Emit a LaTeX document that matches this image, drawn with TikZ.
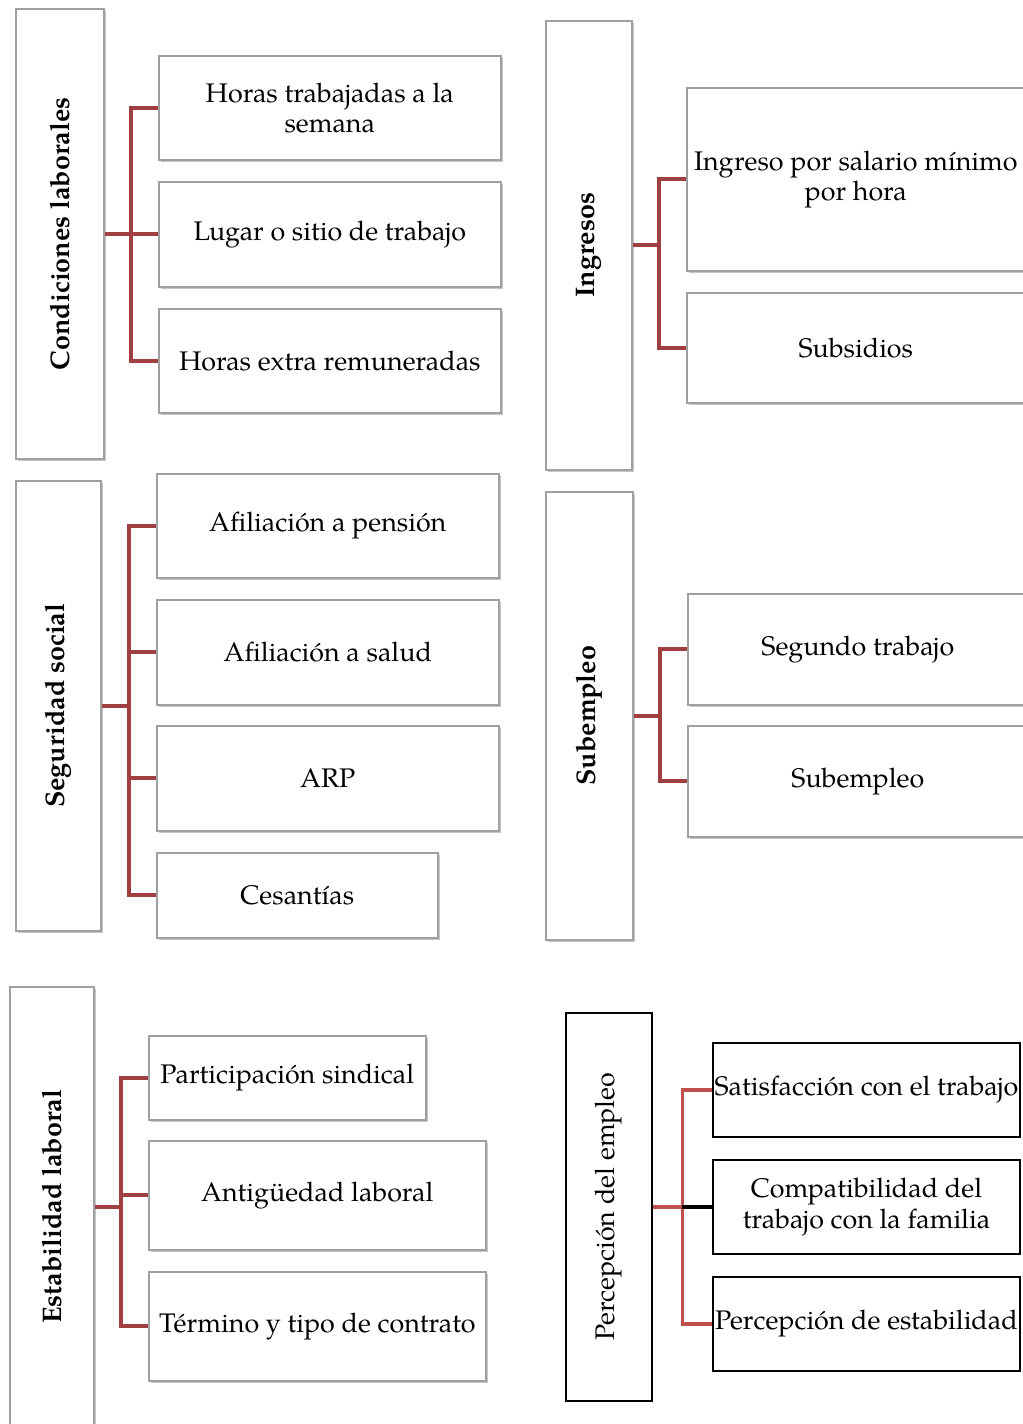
\documentclass[tikz,border=0pt]{standalone}
\usepackage{fontspec}
\setmainfont{texgyrepagella}[Extension=.otf,UprightFont=*-regular,BoldFont=*-bold,ItalicFont=*-italic,BoldItalicFont=*-bolditalic]
\usepackage{xcolor}
\definecolor{LinkRed}{HTML}{A03F3F}
\definecolor{LinkLight}{HTML}{C0504D}
\definecolor{BoxGray}{HTML}{A0A0A0}
\usepackage{tikz}
\usetikzlibrary{calc}
\usetikzlibrary{shadows}
\newcommand{\unitpx}{0.02cm}
\tikzset{
	every node/.style={font=\fontsize{15.3}{17.2}\selectfont},
	wh/.style 2 args={minimum width=#1*\unitpx, minimum height=#2*\unitpx},
	item/.style={draw=BoxGray, line width=0.9pt, fill=white, anchor=north west, align=center, inner sep=0pt,
		drop shadow={shadow xshift=1.4pt, shadow yshift=-1.4pt, opacity=0.45}},
	plainitem/.style={draw=black, line width=1.1pt, fill=white, anchor=north west, align=center, inner sep=0pt},
	link/.style={draw=LinkRed, line width=2.2pt, line join=miter},
	lightlink/.style={draw=LinkLight, line width=2.2pt, line join=miter}
}

\begin{document}
\begin{tikzpicture}[x=\unitpx,y=-\unitpx]
	\useasboundingbox (0,0) rectangle (1023,1424);
	\clip (0,0) rectangle (1023,1424);
	
	% Condiciones laborales
	\node[item,wh={88}{450}] (cond) at (15,8) {\rotatebox{90}{\bfseries Condiciones laborales}};
	\node[item,wh={342}{104}] (hrs) at (158,55) {Horas trabajadas a la\\semana};
	\node[item,wh={342}{105}] (lug) at (158,181) {Lugar o sitio de trabajo};
	\node[item,wh={342}{104}] (ext) at (158,308) {Horas extra remuneradas};
	\coordinate (t1) at ($(cond.east)!.5!(hrs.west)$);
	\draw[link] (cond.east) -- (cond.east -| t1);
	\draw[link] (hrs.west) -- (hrs.west -| t1) -- (ext.west -| t1) -- (ext.west);
	\draw[link] (lug.west) -- (lug.west -| t1);
	
	% Ingresos
	\node[item,wh={86}{449}] (ingr) at (545,20) {\rotatebox{90}{\bfseries Ingresos}};
	\node[item,wh={338}{183}] (sal) at (686,87) {Ingreso por salario mínimo\\por hora};
	\node[item,wh={338}{110}] (subs) at (686,292) {Subsidios};
	\coordinate (t2) at ($(ingr.east)!.5!(sal.west)$);
	\draw[link] (ingr.east) -- (ingr.east -| t2);
	\draw[link] (sal.west) -- (sal.west -| t2) -- (subs.west -| t2) -- (subs.west);
	
	% Seguridad social
	\node[item,wh={85}{450}] (segs) at (15,480) {\rotatebox{90}{\bfseries Seguridad social}};
	\node[item,wh={342}{104}] (pen) at (156,473) {Afiliación a pensión};
	\node[item,wh={342}{105}] (salud) at (156,599) {Afiliación a salud};
	\node[item,wh={342}{105}] (arp) at (156,725) {ARP};
	\node[item,wh={281}{85}] (ces) at (156,852) {Cesantías};
	\coordinate (t3) at ($(segs.east)!.5!(pen.west)$);
	\draw[link] (segs.east) -- (segs.east -| t3);
	\draw[link] (pen.west) -- (pen.west -| t3) -- (ces.west -| t3) -- (ces.west);
	\foreach \c in {salud,arp}
		\draw[link] (\c.west) -- (\c.west -| t3);
	
	% Subempleo
	\node[item,wh={87}{448}] (subm) at (545,491) {\rotatebox{90}{\bfseries Subempleo}};
	\node[item,wh={340}{111}] (segt) at (687,593) {Segundo trabajo};
	\node[item,wh={340}{111}] (sube) at (687,725) {Subempleo};
	\coordinate (t4) at ($(subm.east)!.5!(segt.west)$);
	\draw[link] (subm.east) -- (subm.east -| t4);
	\draw[link] (segt.west) -- (segt.west -| t4) -- (sube.west -| t4) -- (sube.west);
	
	% Estabilidad laboral
	\node[item,wh={84}{440}] (estab) at (9,986) {\rotatebox{90}{\bfseries Estabilidad laboral}};
	\node[item,wh={277}{84}] (sind) at (148,1035) {Participación sindical};
	\node[item,wh={337}{109}] (anti) at (148,1140) {Antigüedad laboral};
	\node[item,wh={337}{109}] (term) at (148,1271) {Término y tipo de contrato};
	\coordinate (t5) at ($(estab.east)!.5!(sind.west)$);
	\draw[link] (estab.east) -- (estab.east -| t5);
	\draw[link] (sind.west) -- (sind.west -| t5) -- (term.west -| t5) -- (term.west);
	\draw[link] (anti.west) -- (anti.west -| t5);
	
	% Percepcion del empleo
	\node[plainitem,wh={86}{388}] (perc) at (565,1012) {\rotatebox{90}{Percepción del empleo}};
	\node[plainitem,wh={307}{94}] (satis) at (712,1042) {Satisfacción con el trabajo};
	\node[plainitem,wh={307}{94}] (comp) at (712,1159) {Compatibilidad del\\trabajo con la familia};
	\node[plainitem,wh={307}{94}] (pest) at (712,1276) {Percepción de estabilidad};
	\coordinate (t6) at ($(perc.east)!.5!(satis.west)$);
	\draw[lightlink] (perc.east) -- (perc.east -| t6);
	\draw[lightlink] (satis.west) -- (satis.west -| t6) -- (pest.west -| t6) -- (pest.west);
	\draw[black,line width=2.8pt] (comp.west -| t6) -- (comp.west);
	
\end{tikzpicture}
\end{document}
